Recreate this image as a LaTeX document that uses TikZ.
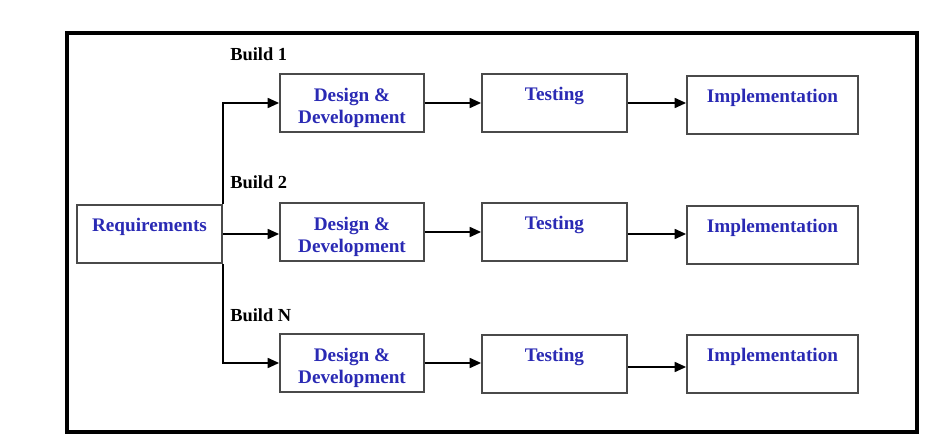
\documentclass[tikz,border=0pt]{standalone}
\usepackage{fontspec}
\setmainfont{Liberation Serif}
\usepackage{tikz}
\usetikzlibrary{arrows.meta, positioning}
\usepackage{xcolor}
\definecolor{boxtext}{HTML}{2A2AB4}
\definecolor{boxline}{HTML}{4A4A4A}

\begin{document}
\begin{tikzpicture}[x=0.75pt, y=-0.75pt,
    phase/.style={rectangle, draw=boxline, line width=1.4pt, fill=white,
      minimum height=43.5pt, align=center, inner sep=0pt, text height=34pt,
      font=\fontsize{14.4}{16.5}\selectfont\bfseries, text=boxtext},
    buildlbl/.style={anchor=west, inner sep=0pt, font=\fontsize{13.8}{16}\selectfont\bfseries},
    flow/.style={-{Triangle[length=8.5pt, width=7.5pt]}, line width=1.1pt}]
\useasboundingbox (0,0) rectangle (951,438);
\draw[line width=2.3pt] (67,33) rectangle (917,432);

% requirements
\node[phase, minimum width=108.75pt] (req) at (149.5,234) {Requirements\\\strut};

% builds
\node[phase, minimum width=108pt] (dev1) at (352,103) {Design \&\\Development};
\node[phase, minimum width=108pt] (dev2) at (352,232) {Design \&\\Development};
\node[phase, minimum width=108pt] (dev3) at (352,363) {Design \&\\Development};

\node[phase, minimum width=108.75pt] (test1) at (554.5,103) {Testing\\\strut};
\node[phase, minimum width=108.75pt] (test2) at (554.5,232) {Testing\\\strut};
\node[phase, minimum width=108.75pt] (test3) at (554.5,364) {Testing\\\strut};

\node[phase, minimum width=128.25pt] (impl1) at (772.5,105) {Implementation\\\strut};
\node[phase, minimum width=128.25pt] (impl2) at (772.5,235) {Implementation\\\strut};
\node[phase, minimum width=128.25pt] (impl3) at (772.5,364) {Implementation\\\strut};

\node[buildlbl] (b1) at (230,54) {Build 1};
\node[buildlbl] (b2) at (230,182) {Build 2};
\node[buildlbl] (bn) at (230,315) {Build N};

% connectors
\draw[flow] (req.north east) |- (dev1.west);
\draw[flow] (req.east) -- (req.east -| dev2.west);
\draw[flow] (req.south east) |- (dev3.west);

\draw[flow] (dev1.east) -- (dev1.east -| test1.west);
\draw[flow] (dev2.east) -- (dev2.east -| test2.west);
\draw[flow] (dev3.east) -- (dev3.east -| test3.west);

\draw[flow] (test1.east) -- (test1.east -| impl1.west);
\draw[flow] ([yshift=-1.5pt]test2.east) -- ([yshift=-1.5pt]test2.east -| impl2.west);
\draw[flow] ([yshift=-2.25pt]test3.east) -- ([yshift=-2.25pt]test3.east -| impl3.west);
\end{tikzpicture}
\end{document}
